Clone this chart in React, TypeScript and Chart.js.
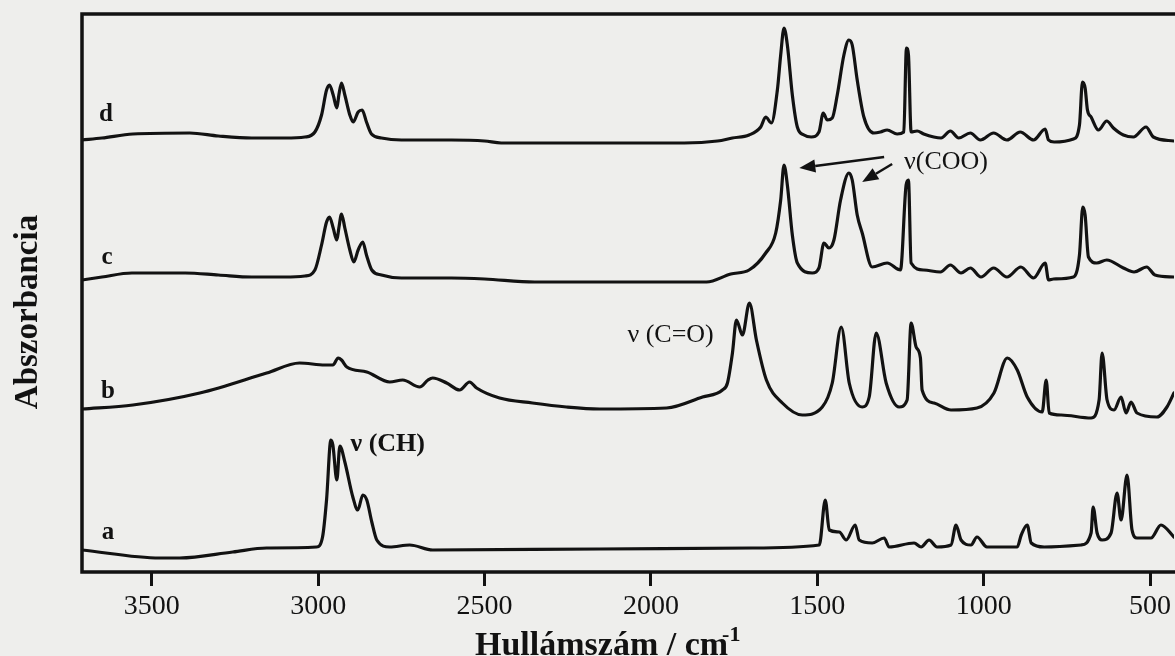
import React, { useEffect, useRef } from "react";
import { Chart, registerables } from "chart.js";

Chart.register(...registerables);

// ---- data (wavenumber cm-1, stacked absorbance in arbitrary units) ----
const xTickValues = [3500, 3000, 2500, 2000, 1500, 1000, 500];
const seriesNames = ["a", "b", "c", "d"];

const spectrumA: [number, number][] = [
  [3710, 22], [3476, 14], [3416, 14], [3257, 20], [3155, 24], [3005, 25], [2987, 35],
  [2975, 72], [2962, 132], [2956, 127], [2944, 92], [2935, 126], [2920, 110], [2896, 75],
  [2881, 62], [2866, 77], [2854, 72], [2839, 50], [2824, 32], [2785, 25], [2725, 27],
  [2656, 22], [2155, 23], [1695, 24], [1494, 27], [1476, 72], [1464, 42], [1434, 40],
  [1413, 32], [1386, 47], [1374, 32], [1335, 29], [1299, 34], [1284, 25], [1209, 29],
  [1188, 25], [1164, 32], [1140, 25], [1098, 27], [1083, 47], [1068, 32], [1038, 27],
  [1020, 35], [990, 25], [899, 25], [887, 37], [869, 47], [857, 29], [818, 25], [707, 27],
  [677, 39], [671, 65], [659, 39], [644, 32], [617, 39], [599, 79], [587, 52], [569, 97],
  [554, 42], [539, 34], [497, 34], [467, 47], [428, 35],
];

const spectrumB: [number, number][] = [
  [3710, 163], [3557, 167], [3356, 179], [3155, 199], [3056, 209], [2980, 207], [2956, 207],
  [2940, 214], [2930, 212], [2914, 205], [2854, 200], [2785, 190], [2746, 192], [2695, 185],
  [2670, 192], [2656, 194], [2614, 189], [2575, 182], [2545, 190], [2524, 184], [2455, 174],
  [2356, 169], [2254, 165], [2155, 163], [1953, 164], [1845, 175], [1785, 182], [1770, 189],
  [1755, 219], [1743, 252], [1725, 237], [1704, 269], [1683, 232], [1653, 192], [1605, 169],
  [1545, 157], [1485, 165], [1455, 189], [1428, 245], [1404, 189], [1365, 165], [1344, 175],
  [1323, 239], [1293, 189], [1254, 165], [1230, 172], [1218, 249], [1203, 225], [1190, 214],
  [1185, 182], [1149, 169], [1098, 162], [1020, 164], [969, 179], [929, 214], [899, 202],
  [869, 175], [824, 160], [812, 192], [803, 159], [767, 157], [677, 154], [653, 172],
  [644, 219], [629, 172], [608, 162], [587, 175], [572, 159], [557, 170], [539, 159],
  [479, 155], [449, 165], [428, 179],
];

const spectrumC: [number, number][] = [
  [3710, 292], [3650, 295], [3560, 299], [3400, 299], [3300, 297], [3200, 295], [3100, 295],
  [3040, 296], [3010, 302], [2990, 327], [2975, 350], [2966, 355], [2955, 344], [2944, 332],
  [2938, 344], [2930, 358], [2920, 344], [2905, 322], [2893, 310], [2880, 322], [2866, 330],
  [2855, 317], [2839, 302], [2810, 297], [2750, 294], [2600, 294], [2500, 293], [2350, 290],
  [2000, 290], [1833, 290], [1760, 298], [1705, 302], [1655, 319], [1625, 339], [1610, 372],
  [1600, 407], [1590, 387], [1575, 337], [1560, 309], [1515, 299], [1495, 304], [1480, 329],
  [1465, 324], [1450, 332], [1430, 372], [1405, 399], [1395, 392], [1380, 357], [1365, 339],
  [1335, 305], [1290, 309], [1250, 302], [1233, 387], [1226, 392], [1218, 309], [1180, 302],
  [1130, 300], [1100, 307], [1068, 299], [1040, 304], [1008, 295], [970, 304], [930, 295],
  [888, 305], [850, 294], [815, 309], [805, 292], [790, 293], [730, 295], [712, 317],
  [702, 365], [695, 357], [685, 315], [660, 309], [630, 312], [580, 304], [548, 300],
  [510, 305], [485, 297], [428, 295],
];

const spectrumD: [number, number][] = [
  [3710, 432], [3650, 434], [3557, 438], [3386, 439], [3300, 436], [3200, 434], [3100, 434],
  [3040, 435], [3010, 440], [2990, 457], [2975, 482], [2966, 487], [2955, 477], [2944, 464],
  [2938, 477], [2930, 489], [2920, 477], [2905, 457], [2895, 450], [2880, 460], [2868, 462],
  [2855, 450], [2840, 438], [2810, 434], [2750, 432], [2600, 432], [2500, 431], [2450, 429],
  [2200, 429], [1900, 429], [1800, 431], [1755, 434], [1705, 437], [1670, 445], [1655, 455],
  [1638, 449], [1620, 482], [1610, 517], [1600, 544], [1590, 527], [1575, 477], [1560, 445],
  [1540, 437], [1518, 435], [1495, 440], [1482, 459], [1470, 452], [1455, 454], [1440, 477],
  [1420, 517], [1405, 532], [1395, 527], [1380, 492], [1360, 455], [1330, 439], [1310, 440],
  [1290, 442], [1260, 438], [1240, 440], [1232, 524], [1226, 517], [1218, 440], [1200, 441],
  [1180, 438], [1150, 435], [1128, 434], [1100, 441], [1075, 434], [1040, 439], [1010, 432],
  [970, 439], [930, 432], [890, 440], [850, 432], [815, 443], [805, 432], [788, 430],
  [730, 433], [712, 447], [703, 490], [695, 484], [688, 462], [677, 455], [655, 442],
  [630, 451], [610, 444], [580, 437], [550, 435], [512, 445], [490, 435], [428, 431],
];

const spectra = [spectrumA, spectrumB, spectrumC, spectrumD];

// series letter positions (data coords)
const seriesLabelPos: [number, number][] = [[3632, 39], [3632, 180], [3635, 314], [3638, 457]];

const bandLabels = [
  { text: "\u03bd (CH)", w: 2791, h: 128, bold: true },
  { text: "\u03bd (C=O)", w: 1941, h: 237, bold: false },
  { text: "\u03bd(COO)", w: 1113, h: 410, bold: false },
];

// arrows: [fromW, fromH, toW, toH]
const arrows: [number, number, number, number][] = [
  [1299, 415, 1554, 404],
  [1275, 408, 1365, 390],
];

const xTitle = "Hullámszám / cm";
const xTitleSup = "-1";
const yTitle = "Abszorbancia";

const X_MIN = 428;
const X_MAX = 3710;
const Y_MIN = 0;
const Y_MAX = 558;

const INK = "#121212";
const SERIF = "'Liberation Serif', 'Times New Roman', serif";

const framePlugin = {
  id: "frame",
  afterDatasetsDraw(chart: any) {
    const { ctx, chartArea } = chart;
    const { left, right, top, bottom } = chartArea;
    ctx.save();
    ctx.strokeStyle = INK;
    ctx.lineWidth = 3.5;
    ctx.lineCap = "square";
    ctx.beginPath();
    ctx.moveTo(right + 5, top);
    ctx.lineTo(left, top);
    ctx.lineTo(left, bottom);
    ctx.lineTo(right + 5, bottom);
    ctx.stroke();

    const xs = chart.scales.x;
    const ys = chart.scales.y;

    // series letters
    ctx.fillStyle = INK;
    ctx.font = `bold 25px ${SERIF}`;
    ctx.textAlign = "center";
    ctx.textBaseline = "middle";
    seriesNames.forEach((n, i) => {
      const [w, h] = seriesLabelPos[i];
      ctx.fillText(n, xs.getPixelForValue(w), ys.getPixelForValue(h));
    });

    // band labels
    bandLabels.forEach((b) => {
      ctx.font = `${b.bold ? "bold " : ""}26px ${SERIF}`;
      ctx.fillText(b.text, xs.getPixelForValue(b.w), ys.getPixelForValue(b.h));
    });

    // arrows
    arrows.forEach(([w1, h1, w2, h2]) => {
      const x1 = xs.getPixelForValue(w1);
      const y1 = ys.getPixelForValue(h1);
      const x2 = xs.getPixelForValue(w2);
      const y2 = ys.getPixelForValue(h2);
      const ang = Math.atan2(y2 - y1, x2 - x1);
      const headLen = 16;
      const headW = 6.5;
      const bx = x2 - headLen * Math.cos(ang);
      const by = y2 - headLen * Math.sin(ang);
      ctx.lineWidth = 2.5;
      ctx.lineCap = "butt";
      ctx.beginPath();
      ctx.moveTo(x1, y1);
      ctx.lineTo(bx, by);
      ctx.stroke();
      ctx.beginPath();
      ctx.moveTo(x2, y2);
      ctx.lineTo(bx + headW * Math.sin(ang), by - headW * Math.cos(ang));
      ctx.lineTo(bx - headW * Math.sin(ang), by + headW * Math.cos(ang));
      ctx.closePath();
      ctx.fill();
    });

    // axis titles
    ctx.font = `bold 34px ${SERIF}`;
    ctx.textAlign = "left";
    ctx.textBaseline = "alphabetic";
    const tx = 475;
    const ty = 655;
    ctx.fillText(xTitle, tx, ty);
    const wMain = ctx.measureText(xTitle).width;
    ctx.font = `bold 22px ${SERIF}`;
    ctx.fillText(xTitleSup, tx + wMain - 6, ty - 14);

    ctx.save();
    ctx.translate(37, 312);
    ctx.rotate(-Math.PI / 2);
    ctx.font = `bold 33px ${SERIF}`;
    ctx.textAlign = "center";
    ctx.fillText(yTitle, 0, 0);
    ctx.restore();

    ctx.restore();
  },
};

export default function App() {
  const ref = useRef<HTMLCanvasElement>(null);

  useEffect(() => {
    if (!ref.current) return;
    const chart = new Chart(ref.current, {
      type: "line",
      data: {
        datasets: spectra.map((s, i) => ({
          label: seriesNames[i],
          data: s.map(([x, y]) => ({ x, y })),
          borderColor: INK,
          borderWidth: 3.2,
          pointRadius: 0,
          cubicInterpolationMode: "monotone" as const,
          fill: false,
          borderJoinStyle: "round" as const,
          borderCapStyle: "round" as const,
        })),
      },
      options: {
        animation: false,
        responsive: false,
        devicePixelRatio: 1,
        layout: { padding: { left: 82, top: 14, right: 0, bottom: 0 } },
        plugins: {
          legend: { display: false },
          tooltip: { enabled: false },
          title: { display: false },
        },
        scales: {
          x: {
            type: "linear",
            min: X_MIN,
            max: X_MAX,
            reverse: true,
            afterBuildTicks: (scale: any) => {
              scale.ticks = xTickValues.map((v) => ({ value: v }));
            },
            afterFit: (scale: any) => {
              scale.height = 84;
            },
            ticks: {
              color: INK,
              font: { family: SERIF, size: 28 },
              padding: 4,
              maxRotation: 0,
              autoSkip: false,
              callback: (v: any) => String(v),
            },
            grid: {
              drawOnChartArea: false,
              drawTicks: true,
              tickLength: 14,
              tickWidth: 3,
              tickColor: INK,
            },
            border: { display: false },
          },
          y: {
            display: false,
            min: Y_MIN,
            max: Y_MAX,
          },
        },
      },
      plugins: [framePlugin],
    });
    return () => chart.destroy();
  }, []);

  return (
    <div
      style={{
        position: "fixed",
        left: 0,
        top: 0,
        width: 1175,
        height: 656,
        background: "#eeeeec",
        overflow: "hidden",
      }}
    >
      <canvas ref={ref} width={1175} height={656} style={{ display: "block" }} />
    </div>
  );
}
